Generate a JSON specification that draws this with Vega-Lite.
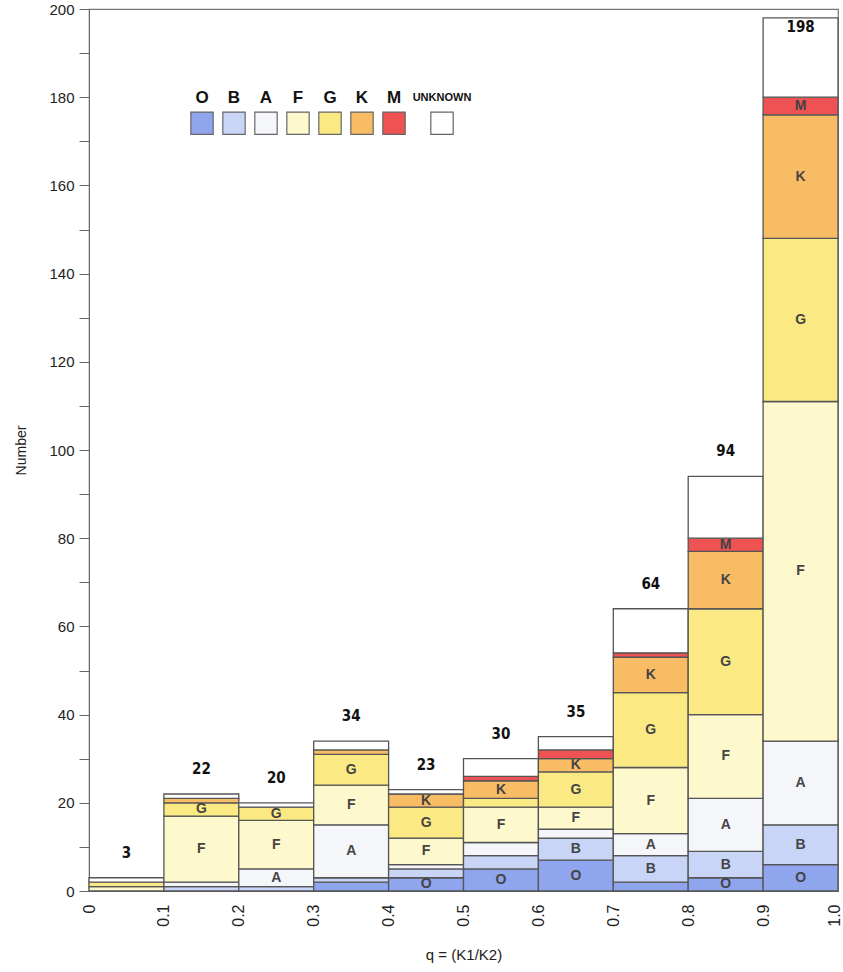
{
  "$schema": "https://vega.github.io/schema/vega-lite/v6.json",
  "width": 749,
  "height": 882,
  "autosize": {"type": "none"},
  "padding": {"left": 89, "top": 9, "right": 5, "bottom": 81},
  "background": "white",
  "config": {
    "view": {"stroke": "#777", "strokeWidth": 1.2},
    "font": "Liberation Sans",
    "axis": {"domainColor": "#666", "tickColor": "#666", "labelColor": "#222", "titleColor": "#222", "labelFont": "Liberation Sans", "titleFont": "Liberation Sans", "grid": false}
  },
  "datasets": {
    "counts": [
      {"q0": 0.0, "q1": 0.1, "cls": "F", "ord": 4, "n": 1, "lab": ""},
      {"q0": 0.0, "q1": 0.1, "cls": "G", "ord": 5, "n": 1, "lab": ""},
      {"q0": 0.0, "q1": 0.1, "cls": "UNKNOWN", "ord": 8, "n": 1, "lab": ""},

      {"q0": 0.1, "q1": 0.2, "cls": "B", "ord": 2, "n": 1, "lab": ""},
      {"q0": 0.1, "q1": 0.2, "cls": "A", "ord": 3, "n": 1, "lab": ""},
      {"q0": 0.1, "q1": 0.2, "cls": "F", "ord": 4, "n": 15, "lab": "F"},
      {"q0": 0.1, "q1": 0.2, "cls": "G", "ord": 5, "n": 3, "lab": "G"},
      {"q0": 0.1, "q1": 0.2, "cls": "K", "ord": 6, "n": 1, "lab": ""},
      {"q0": 0.1, "q1": 0.2, "cls": "UNKNOWN", "ord": 8, "n": 1, "lab": ""},

      {"q0": 0.2, "q1": 0.3, "cls": "B", "ord": 2, "n": 1, "lab": ""},
      {"q0": 0.2, "q1": 0.3, "cls": "A", "ord": 3, "n": 4, "lab": "A"},
      {"q0": 0.2, "q1": 0.3, "cls": "F", "ord": 4, "n": 11, "lab": "F"},
      {"q0": 0.2, "q1": 0.3, "cls": "G", "ord": 5, "n": 3, "lab": "G"},
      {"q0": 0.2, "q1": 0.3, "cls": "UNKNOWN", "ord": 8, "n": 1, "lab": ""},

      {"q0": 0.3, "q1": 0.4, "cls": "O", "ord": 1, "n": 2, "lab": ""},
      {"q0": 0.3, "q1": 0.4, "cls": "B", "ord": 2, "n": 1, "lab": ""},
      {"q0": 0.3, "q1": 0.4, "cls": "A", "ord": 3, "n": 12, "lab": "A"},
      {"q0": 0.3, "q1": 0.4, "cls": "F", "ord": 4, "n": 9, "lab": "F"},
      {"q0": 0.3, "q1": 0.4, "cls": "G", "ord": 5, "n": 7, "lab": "G"},
      {"q0": 0.3, "q1": 0.4, "cls": "K", "ord": 6, "n": 1, "lab": ""},
      {"q0": 0.3, "q1": 0.4, "cls": "UNKNOWN", "ord": 8, "n": 2, "lab": ""},

      {"q0": 0.4, "q1": 0.5, "cls": "O", "ord": 1, "n": 3, "lab": "O"},
      {"q0": 0.4, "q1": 0.5, "cls": "B", "ord": 2, "n": 2, "lab": ""},
      {"q0": 0.4, "q1": 0.5, "cls": "A", "ord": 3, "n": 1, "lab": ""},
      {"q0": 0.4, "q1": 0.5, "cls": "F", "ord": 4, "n": 6, "lab": "F"},
      {"q0": 0.4, "q1": 0.5, "cls": "G", "ord": 5, "n": 7, "lab": "G"},
      {"q0": 0.4, "q1": 0.5, "cls": "K", "ord": 6, "n": 3, "lab": "K"},
      {"q0": 0.4, "q1": 0.5, "cls": "UNKNOWN", "ord": 8, "n": 1, "lab": ""},

      {"q0": 0.5, "q1": 0.6, "cls": "O", "ord": 1, "n": 5, "lab": "O"},
      {"q0": 0.5, "q1": 0.6, "cls": "B", "ord": 2, "n": 3, "lab": ""},
      {"q0": 0.5, "q1": 0.6, "cls": "A", "ord": 3, "n": 3, "lab": ""},
      {"q0": 0.5, "q1": 0.6, "cls": "F", "ord": 4, "n": 8, "lab": "F"},
      {"q0": 0.5, "q1": 0.6, "cls": "G", "ord": 5, "n": 2, "lab": ""},
      {"q0": 0.5, "q1": 0.6, "cls": "K", "ord": 6, "n": 4, "lab": "K"},
      {"q0": 0.5, "q1": 0.6, "cls": "M", "ord": 7, "n": 1, "lab": ""},
      {"q0": 0.5, "q1": 0.6, "cls": "UNKNOWN", "ord": 8, "n": 4, "lab": ""},

      {"q0": 0.6, "q1": 0.7, "cls": "O", "ord": 1, "n": 7, "lab": "O"},
      {"q0": 0.6, "q1": 0.7, "cls": "B", "ord": 2, "n": 5, "lab": "B"},
      {"q0": 0.6, "q1": 0.7, "cls": "A", "ord": 3, "n": 2, "lab": ""},
      {"q0": 0.6, "q1": 0.7, "cls": "F", "ord": 4, "n": 5, "lab": "F"},
      {"q0": 0.6, "q1": 0.7, "cls": "G", "ord": 5, "n": 8, "lab": "G"},
      {"q0": 0.6, "q1": 0.7, "cls": "K", "ord": 6, "n": 3, "lab": "K"},
      {"q0": 0.6, "q1": 0.7, "cls": "M", "ord": 7, "n": 2, "lab": ""},
      {"q0": 0.6, "q1": 0.7, "cls": "UNKNOWN", "ord": 8, "n": 3, "lab": ""},

      {"q0": 0.7, "q1": 0.8, "cls": "O", "ord": 1, "n": 2, "lab": ""},
      {"q0": 0.7, "q1": 0.8, "cls": "B", "ord": 2, "n": 6, "lab": "B"},
      {"q0": 0.7, "q1": 0.8, "cls": "A", "ord": 3, "n": 5, "lab": "A"},
      {"q0": 0.7, "q1": 0.8, "cls": "F", "ord": 4, "n": 15, "lab": "F"},
      {"q0": 0.7, "q1": 0.8, "cls": "G", "ord": 5, "n": 17, "lab": "G"},
      {"q0": 0.7, "q1": 0.8, "cls": "K", "ord": 6, "n": 8, "lab": "K"},
      {"q0": 0.7, "q1": 0.8, "cls": "M", "ord": 7, "n": 1, "lab": ""},
      {"q0": 0.7, "q1": 0.8, "cls": "UNKNOWN", "ord": 8, "n": 10, "lab": ""},

      {"q0": 0.8, "q1": 0.9, "cls": "O", "ord": 1, "n": 3, "lab": "O"},
      {"q0": 0.8, "q1": 0.9, "cls": "B", "ord": 2, "n": 6, "lab": "B"},
      {"q0": 0.8, "q1": 0.9, "cls": "A", "ord": 3, "n": 12, "lab": "A"},
      {"q0": 0.8, "q1": 0.9, "cls": "F", "ord": 4, "n": 19, "lab": "F"},
      {"q0": 0.8, "q1": 0.9, "cls": "G", "ord": 5, "n": 24, "lab": "G"},
      {"q0": 0.8, "q1": 0.9, "cls": "K", "ord": 6, "n": 13, "lab": "K"},
      {"q0": 0.8, "q1": 0.9, "cls": "M", "ord": 7, "n": 3, "lab": "M"},
      {"q0": 0.8, "q1": 0.9, "cls": "UNKNOWN", "ord": 8, "n": 14, "lab": ""},

      {"q0": 0.9, "q1": 1.0, "cls": "O", "ord": 1, "n": 6, "lab": "O"},
      {"q0": 0.9, "q1": 1.0, "cls": "B", "ord": 2, "n": 9, "lab": "B"},
      {"q0": 0.9, "q1": 1.0, "cls": "A", "ord": 3, "n": 19, "lab": "A"},
      {"q0": 0.9, "q1": 1.0, "cls": "F", "ord": 4, "n": 77, "lab": "F"},
      {"q0": 0.9, "q1": 1.0, "cls": "G", "ord": 5, "n": 37, "lab": "G"},
      {"q0": 0.9, "q1": 1.0, "cls": "K", "ord": 6, "n": 28, "lab": "K"},
      {"q0": 0.9, "q1": 1.0, "cls": "M", "ord": 7, "n": 4, "lab": "M"},
      {"q0": 0.9, "q1": 1.0, "cls": "UNKNOWN", "ord": 8, "n": 18, "lab": ""}
    ],
    "totals": [
      {"q0": 0.0, "total": 3},
      {"q0": 0.1, "total": 22},
      {"q0": 0.2, "total": 20},
      {"q0": 0.3, "total": 34},
      {"q0": 0.4, "total": 23},
      {"q0": 0.5, "total": 30},
      {"q0": 0.6, "total": 35},
      {"q0": 0.7, "total": 64},
      {"q0": 0.8, "total": 94},
      {"q0": 0.9, "total": 198}
    ]
  },
  "layer": [
    {
      "data": {"name": "counts"},
      "transform": [
        {"stack": "n", "groupby": ["q0"], "sort": [{"field": "ord"}], "as": ["y0", "y1"]}
      ],
      "mark": {"type": "bar", "stroke": "#555", "strokeWidth": 1.3, "opacity": 1},
      "encoding": {
        "x": {"field": "q0", "type": "quantitative",
              "scale": {"domain": [0, 1], "nice": false, "zero": false},
              "axis": {"values": [0, 0.1, 0.2, 0.3, 0.4, 0.5, 0.6, 0.7, 0.8, 0.9, 1.0],
                       "labelExpr": "datum.value == 0 ? '0' : format(datum.value, '.1f')",
                       "labelAngle": 270, "labelFontSize": 16, "labelPadding": 13, "ticks": false,
                       "labelOffset": {"condition": {"test": "datum.value == 1", "value": -4}, "value": 0},
                       "title": "q = (K1/K2)", "titleFontSize": 15, "titleFontWeight": "normal", "titlePadding": 21}},
        "x2": {"field": "q1"},
        "y": {"field": "y0", "type": "quantitative",
              "scale": {"domain": [0, 200], "nice": false},
              "axis": {"values": [0, 10, 20, 30, 40, 50, 60, 70, 80, 90, 100, 110, 120, 130, 140, 150, 160, 170, 180, 190, 200],
                       "labelExpr": "datum.value % 20 == 0 ? datum.label : ''",
                       "labelFontSize": 15, "tickSize": 10, "labelPadding": 5,
                       "title": "Number", "titleFontSize": 14, "titleFontWeight": "normal", "titlePadding": 20}},
        "y2": {"field": "y1"},
        "color": {"field": "cls", "type": "nominal",
                  "scale": {"domain": ["O", "B", "A", "F", "G", "K", "M", "UNKNOWN"],
                            "range": ["#8FA5EE", "#C9D5F7", "#F4F6FA", "#FEF9CC", "#FBEA84", "#F8BC64", "#EE5252", "#FFFFFF"]},
                  "legend": {
                    "orient": "none", "legendX": 101, "legendY": 102, "direction": "horizontal", "columns": 8,
                    "title": null, "padding": 0,
                    "symbolType": "square", "symbolSize": 500, "symbolStrokeColor": "#666", "symbolStrokeWidth": 1.2, "symbolOpacity": 1,
                    "labelFont": "Liberation Sans", "labelFontSize": 17, "labelFontWeight": "bold", "labelColor": "#111",
                    "labelOffset": 0, "columnPadding": 4, "labelAlign": "center", "labelBaseline": "middle",
                    "encode": {"labels": {"update": {"dx": {"value": -12}, "dy": {"value": -25},
                                                     "fontSize": {"signal": "datum.value === 'UNKNOWN' ? 11 : 17"}}}}
                  }}
      }
    },
    {
      "data": {"name": "counts"},
      "transform": [
        {"stack": "n", "groupby": ["q0"], "sort": [{"field": "ord"}], "as": ["y0", "y1"]},
        {"filter": "datum.lab != ''"},
        {"fold": ["y0", "y1"], "as": ["side", "yv"]}
      ],
      "mark": {"type": "text", "dx": 37.5, "align": "center", "baseline": "middle", "fontSize": 14, "fontWeight": "bold", "color": "#444"},
      "encoding": {
        "x": {"field": "q0", "type": "quantitative"},
        "y": {"field": "yv", "aggregate": "mean", "type": "quantitative"},
        "text": {"field": "lab"},
        "detail": {"field": "cls"}
      }
    },
    {
      "data": {"name": "totals"},
      "transform": [{"filter": "datum.total < 190"}],
      "mark": {"type": "text", "dx": 37.5, "dy": -17, "align": "center", "baseline": "bottom", "fontSize": 15, "fontWeight": "bold", "font": "DejaVu Sans Condensed, Liberation Sans, sans-serif", "color": "#111"},
      "encoding": {
        "x": {"field": "q0", "type": "quantitative"},
        "y": {"field": "total", "type": "quantitative"},
        "text": {"field": "total"}
      }
    },
    {
      "data": {"name": "totals"},
      "transform": [{"filter": "datum.total >= 190"}],
      "mark": {"type": "text", "dx": 37.5, "dy": 9, "align": "center", "baseline": "middle", "fontSize": 15, "fontWeight": "bold", "font": "DejaVu Sans Condensed, Liberation Sans, sans-serif", "color": "#111"},
      "encoding": {
        "x": {"field": "q0", "type": "quantitative"},
        "y": {"field": "total", "type": "quantitative"},
        "text": {"field": "total"}
      }
    }
  ]
}
